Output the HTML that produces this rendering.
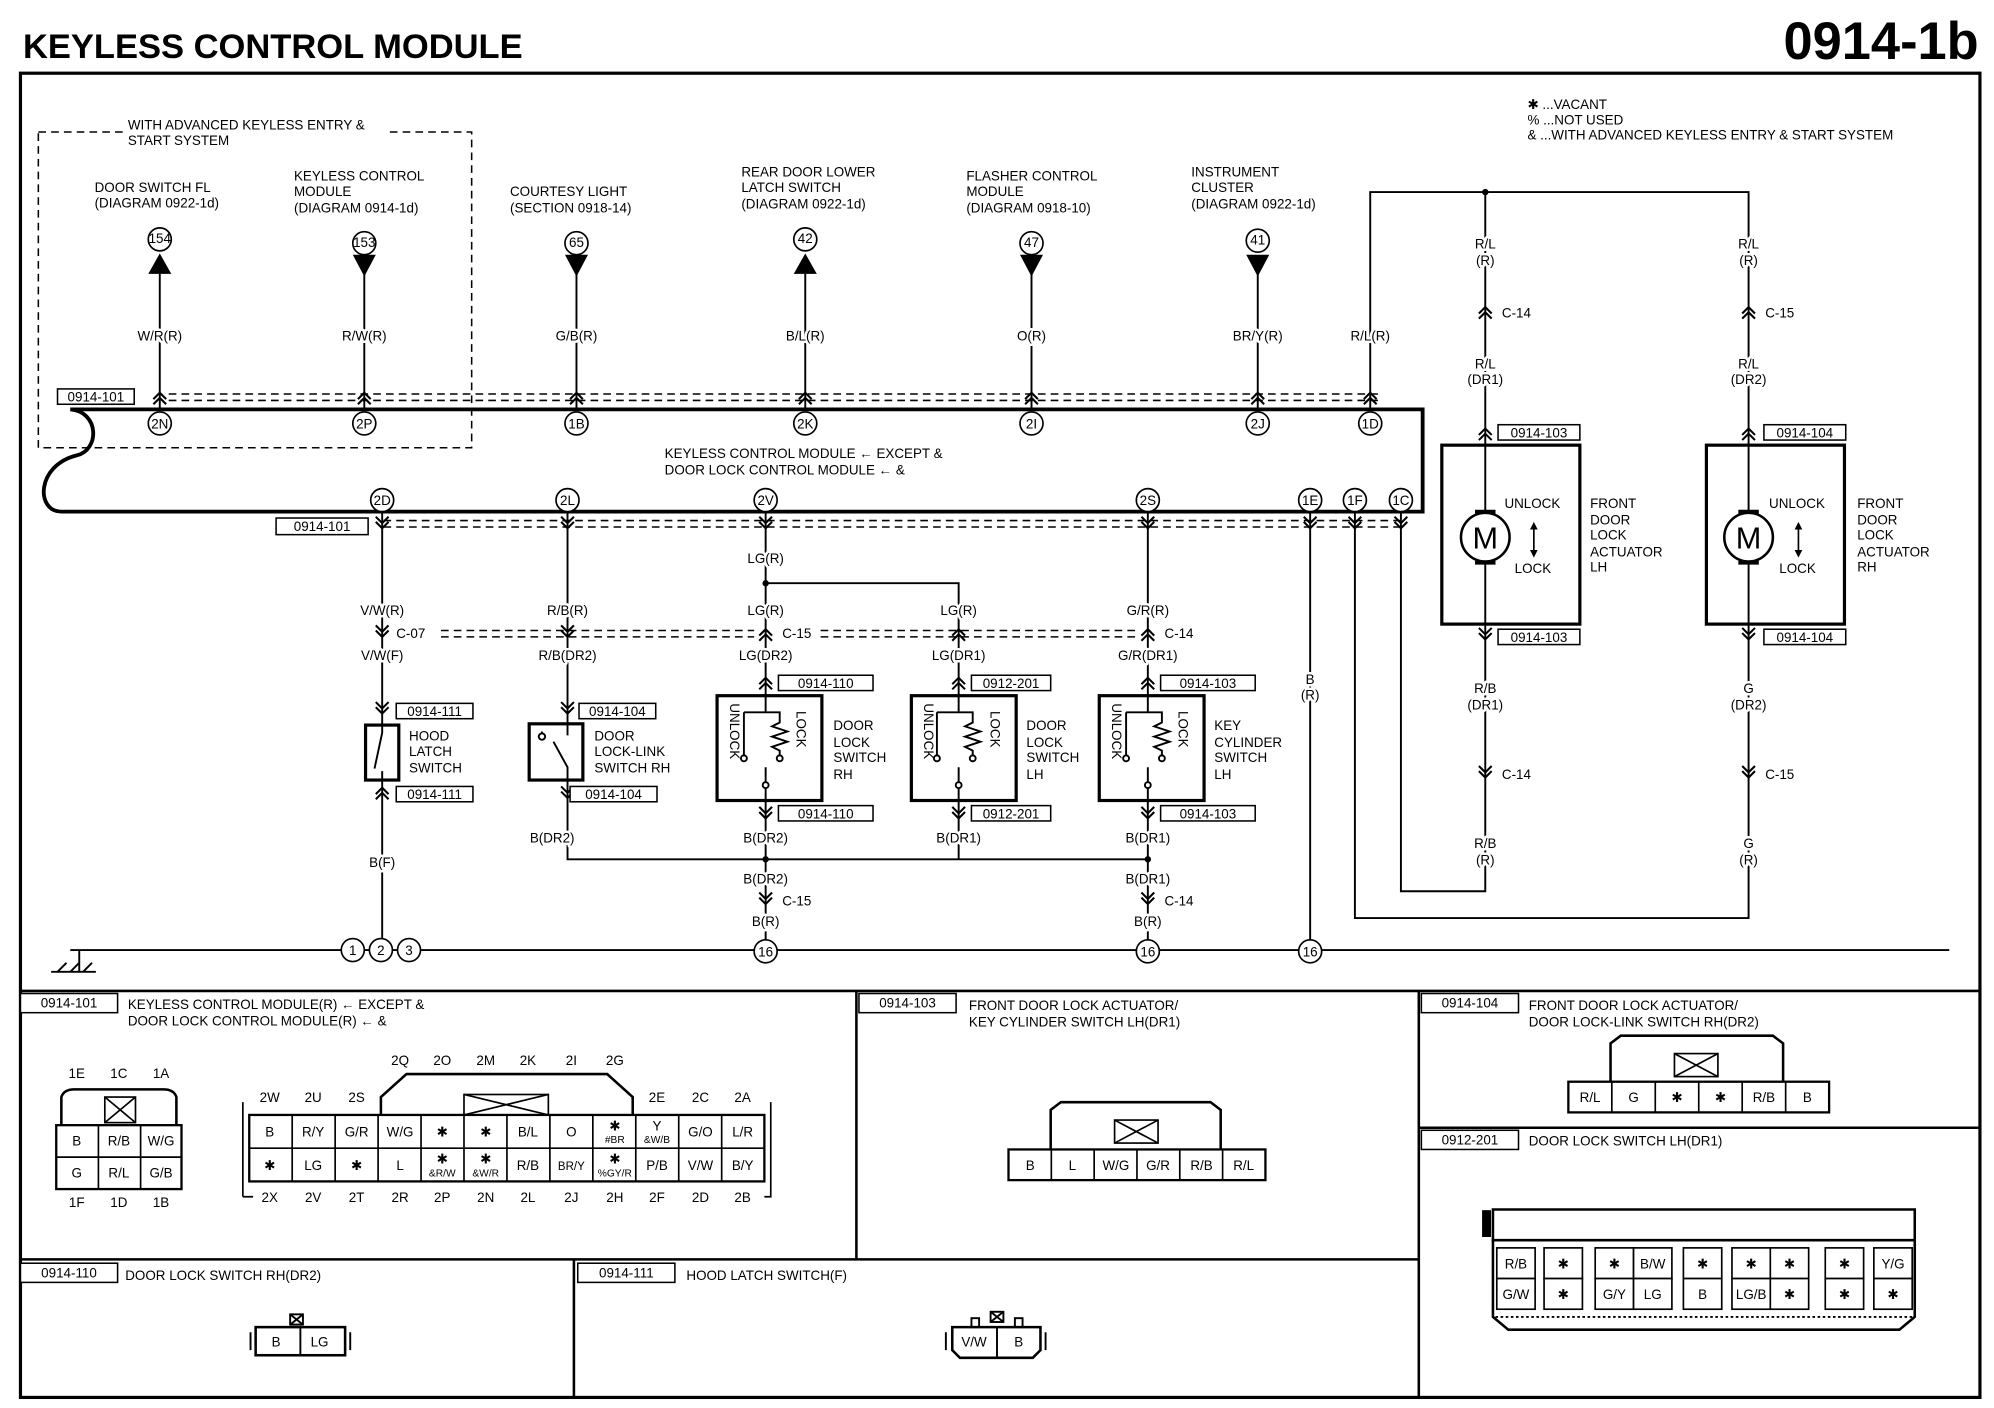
<!DOCTYPE html>
<html><head><meta charset="utf-8"><style>
html,body{margin:0;padding:0;background:#fff}
svg{display:block}
text{font-family:"Liberation Sans",sans-serif;font-size:10.5px;fill:#000}
.c{text-anchor:middle}
.b{font-weight:bold}
.w{paint-order:stroke;stroke:#fff;stroke-width:4px;stroke-linejoin:round}
</style></head><body>
<svg width="1994" height="1408" viewBox="0 0 1560 1101" xmlns="http://www.w3.org/2000/svg">
<defs>
<g id="cu"><path d="M-5 3 L0 -2 L5 3 M-5 7 L0 2 L5 7" fill="none" stroke="#000" stroke-width="1.6"/></g>
<g id="cd"><path d="M-5 -3 L0 2 L5 -3 M-5 -7 L0 -2 L5 -7" fill="none" stroke="#000" stroke-width="1.6"/></g>
</defs>
<rect width="1560" height="1101" fill="#fff"/>
<text x="18" y="45" class="b" style="font-size:27px">KEYLESS CONTROL MODULE</text>
<text x="1548" y="46" class="b" style="font-size:41px;text-anchor:end">0914-1b</text>
<rect x="16" y="57" width="1533" height="1036" fill="none" stroke="#000" stroke-width="2.5"/>

<!-- dashed adv box -->
<path d="M30 103 H98 M305 103 H369 V350 H30 V103" fill="none" stroke="#000" stroke-width="1.2" stroke-dasharray="6 4"/>
<text x="100" y="101">WITH ADVANCED KEYLESS ENTRY &amp;</text>
<text x="100" y="113">START SYSTEM</text>

<g>
<text x="74" y="150">DOOR SWITCH FL</text><text x="74" y="162">(DIAGRAM 0922-1d)</text>
<text x="230" y="141">KEYLESS CONTROL</text><text x="230" y="153">MODULE</text><text x="230" y="166">(DIAGRAM 0914-1d)</text>
<text x="399" y="153">COURTESY LIGHT</text><text x="399" y="166">(SECTION 0918-14)</text>
<text x="580" y="138">REAR DOOR LOWER</text><text x="580" y="150">LATCH SWITCH</text><text x="580" y="163">(DIAGRAM 0922-1d)</text>
<text x="756" y="141">FLASHER CONTROL</text><text x="756" y="153">MODULE</text><text x="756" y="166">(DIAGRAM 0918-10)</text>
<text x="932" y="138">INSTRUMENT</text><text x="932" y="150">CLUSTER</text><text x="932" y="163">(DIAGRAM 0922-1d)</text>
<text x="1195" y="85">✱ ...VACANT</text><text x="1195" y="97">% ...NOT USED</text><text x="1195" y="109">&amp; ...WITH ADVANCED KEYLESS ENTRY &amp; START SYSTEM</text>
</g>

<!-- top wires -->
<g stroke="#000" stroke-width="1.5" fill="none">
<path d="M125 214 V320 M285 214 V320 M451 214 V320 M630 214 V320 M807 214 V320 M984 214 V320 M1072 320 V150 H1368 V348 M1162 150 V348"/>
</g>
<g fill="#000">
<path d="M116 214 L134 214 L125 198 Z"/><path d="M276 199 L294 199 L285 216 Z"/><path d="M442 199 L460 199 L451 216 Z"/>
<path d="M621 214 L639 214 L630 198 Z"/><path d="M798 199 L816 199 L807 216 Z"/><path d="M975 199 L993 199 L984 216 Z"/>
<circle cx="1162" cy="150" r="2.5"/>
</g>
<g fill="#fff" stroke="#000" stroke-width="1.3">
<circle cx="125" cy="187" r="9"/><circle cx="285" cy="190" r="9"/><circle cx="451" cy="190" r="9"/><circle cx="630" cy="187" r="9"/><circle cx="807" cy="190" r="9"/><circle cx="984" cy="188" r="9"/>
</g>
<g class="c" style="font-size:8px">
<text x="125" y="190" class="c">154</text><text x="285" y="193" class="c">153</text><text x="451" y="193" class="c">65</text><text x="630" y="190" class="c">42</text><text x="807" y="193" class="c">47</text><text x="984" y="191" class="c">41</text>
</g>
<g>
<text x="125" y="266" class="c w">W/R(R)</text><text x="285" y="266" class="c w">R/W(R)</text><text x="451" y="266" class="c w">G/B(R)</text><text x="630" y="266" class="c w">B/L(R)</text><text x="807" y="266" class="c w">O(R)</text><text x="984" y="266" class="c w">BR/Y(R)</text><text x="1072" y="266" class="c w">R/L(R)</text>
</g>

<!-- bus -->
<path d="M1113 320 H55 C78 322 78 352 60 356 C28 364 28 400 48 400 H1113 Z" fill="none" stroke="#000" stroke-width="3"/>
<path d="M132 308 H1080 M132 313 H1080" stroke="#000" stroke-width="1.2" stroke-dasharray="6 4"/>
<path d="M300 407 H1100 M300 412 H1100" stroke="#000" stroke-width="1.2" stroke-dasharray="6 4"/>
<g>
<use href="#cu" x="125" y="309"/><use href="#cu" x="285" y="309"/><use href="#cu" x="451" y="309"/><use href="#cu" x="630" y="309"/><use href="#cu" x="807" y="309"/><use href="#cu" x="984" y="309"/><use href="#cu" x="1072" y="309"/>
<use href="#cd" x="299" y="411"/><use href="#cd" x="444" y="411"/><use href="#cd" x="599" y="411"/><use href="#cd" x="898" y="411"/><use href="#cd" x="1025" y="411"/><use href="#cd" x="1060" y="411"/><use href="#cd" x="1096" y="411"/>
</g>
<g fill="#fff" stroke="#000" stroke-width="1.3">
<circle cx="125" cy="331" r="9"/><circle cx="285" cy="331" r="9"/><circle cx="451" cy="331" r="9"/><circle cx="630" cy="331" r="9"/><circle cx="807" cy="331" r="9"/><circle cx="984" cy="331" r="9"/><circle cx="1072" cy="331" r="9"/>
<circle cx="299" cy="391" r="9"/><circle cx="444" cy="391" r="9"/><circle cx="599" cy="391" r="9"/><circle cx="898" cy="391" r="9"/><circle cx="1025" cy="391" r="9"/><circle cx="1060" cy="391" r="9"/><circle cx="1096" cy="391" r="9"/>
</g>
<g style="font-size:9.5px">
<text x="125" y="335" class="c">2N</text><text x="285" y="335" class="c">2P</text><text x="451" y="335" class="c">1B</text><text x="630" y="335" class="c">2K</text><text x="807" y="335" class="c">2I</text><text x="984" y="335" class="c">2J</text><text x="1072" y="335" class="c">1D</text>
<text x="299" y="395" class="c">2D</text><text x="444" y="395" class="c">2L</text><text x="599" y="395" class="c">2V</text><text x="898" y="395" class="c">2S</text><text x="1025" y="395" class="c">1E</text><text x="1060" y="395" class="c">1F</text><text x="1096" y="395" class="c">1C</text>
</g>
<rect x="45" y="304" width="60" height="12" fill="#fff" stroke="#000" stroke-width="1.2"/><text x="75" y="314" class="c">0914-101</text>
<rect x="216" y="405" width="72" height="13" fill="#fff" stroke="#000" stroke-width="1.2"/><text x="252" y="415" class="c">0914-101</text>
<text x="520" y="358">KEYLESS CONTROL MODULE ← EXCEPT &amp;</text>
<text x="520" y="371">DOOR LOCK CONTROL MODULE ← &amp;</text>

<!-- actuators -->
<g stroke="#000" fill="none">
<rect x="1128" y="348" width="108" height="140" stroke-width="2.5"/>
<rect x="1335" y="348" width="108" height="140" stroke-width="2.5"/>
<path d="M1162 488 V697 H1096 V400 M1368 488 V718 H1060 V400 M1025 400 V743" stroke-width="1.5"/>
<path d="M1162 348 V401 M1162 439 V488 M1368 348 V401 M1368 439 V488" stroke-width="1.5"/>
<circle cx="1162" cy="420" r="19" stroke-width="2" fill="#fff"/>
<circle cx="1368" cy="420" r="19" stroke-width="2" fill="#fff"/>
<path d="M1200 412 V432 M1407 412 V432" stroke-width="1.3"/>
<path d="M1154 400 H1170 M1154 440 H1170 M1360 400 H1376 M1360 440 H1376" stroke-width="3"/>
</g>
<path d="M1197 414 L1200 408 L1203 414 Z M1197 430 L1200 436 L1203 430 Z M1404 414 L1407 408 L1410 414 Z M1404 430 L1407 436 L1410 430 Z" fill="#000"/>
<text x="1162" y="429" class="c" style="font-size:24px">M</text>
<text x="1368" y="429" class="c" style="font-size:24px">M</text>
<text x="1177" y="397">UNLOCK</text><text x="1185" y="448">LOCK</text>
<text x="1384" y="397">UNLOCK</text><text x="1392" y="448">LOCK</text>
<text x="1244" y="397">FRONT</text><text x="1244" y="410">DOOR</text><text x="1244" y="422">LOCK</text><text x="1244" y="435">ACTUATOR</text><text x="1244" y="447">LH</text>
<text x="1453" y="397">FRONT</text><text x="1453" y="410">DOOR</text><text x="1453" y="422">LOCK</text><text x="1453" y="435">ACTUATOR</text><text x="1453" y="447">RH</text>
<g>
<text x="1162" y="194" class="c w">R/L</text><text x="1162" y="207" class="c w">(R)</text>
<text x="1368" y="194" class="c w">R/L</text><text x="1368" y="207" class="c w">(R)</text>
<use href="#cu" x="1162" y="242"/><text x="1175" y="248">C-14</text>
<use href="#cu" x="1368" y="242"/><text x="1381" y="248">C-15</text>
<text x="1162" y="288" class="c w">R/L</text><text x="1162" y="300" class="c w">(DR1)</text>
<text x="1368" y="288" class="c w">R/L</text><text x="1368" y="300" class="c w">(DR2)</text>
<use href="#cu" x="1162" y="337"/><use href="#cu" x="1368" y="337"/>
<rect x="1172" y="332" width="64" height="12" fill="#fff" stroke="#000" stroke-width="1.2"/><text x="1204" y="342" class="c">0914-103</text>
<rect x="1380" y="332" width="64" height="12" fill="#fff" stroke="#000" stroke-width="1.2"/><text x="1412" y="342" class="c">0914-104</text>
<use href="#cd" x="1162" y="498"/><use href="#cd" x="1368" y="498"/>
<rect x="1172" y="492" width="64" height="12" fill="#fff" stroke="#000" stroke-width="1.2"/><text x="1204" y="502" class="c">0914-103</text>
<rect x="1380" y="492" width="64" height="12" fill="#fff" stroke="#000" stroke-width="1.2"/><text x="1412" y="502" class="c">0914-104</text>
<text x="1162" y="542" class="c w">R/B</text><text x="1162" y="555" class="c w">(DR1)</text>
<text x="1368" y="542" class="c w">G</text><text x="1368" y="555" class="c w">(DR2)</text>
<use href="#cd" x="1162" y="606"/><text x="1175" y="609">C-14</text>
<use href="#cd" x="1368" y="606"/><text x="1381" y="609">C-15</text>
<text x="1162" y="663" class="c w">R/B</text><text x="1162" y="676" class="c w">(R)</text>
<text x="1368" y="663" class="c w">G</text><text x="1368" y="676" class="c w">(R)</text>
<text x="1025" y="535" class="c w">B</text><text x="1025" y="547" class="c w">(R)</text>
</g>

<!-- bottom circuits -->
<g stroke="#000" stroke-width="1.5" fill="none">
<path d="M299 400 V743 M444 400 V567 M444 610 V672 H899 M599 400 V544 M599 626 V743 M599 456 H750 V544 M750 626 V672 M898 400 V544 M898 626 V743"/>
<path d="M55 743 H1525" />
<path d="M62 743 V760 M45 760 L52 753 M55 760 L62 753 M65 760 L72 753 M40 760 H75"/>
</g>
<path d="M345 493 H590 M345 498 H590 M642 493 H890 M642 498 H890" stroke="#000" stroke-width="1.2" stroke-dasharray="6 4"/>
<g fill="#000"><circle cx="599" cy="456" r="2.5"/><circle cx="599" cy="672" r="2.5"/><circle cx="898" cy="672" r="2.5"/></g>
<g>
<text x="299" y="481" class="c w">V/W(R)</text><use href="#cd" x="299" y="496"/><text x="310" y="499">C-07</text><text x="299" y="516" class="c w">V/W(F)</text>
<text x="444" y="481" class="c w">R/B(R)</text><use href="#cd" x="444" y="496"/><text x="444" y="516" class="c w">R/B(DR2)</text>
<text x="599" y="440" class="c w">LG(R)</text>
<text x="599" y="481" class="c w">LG(R)</text><use href="#cu" x="599" y="494"/><text x="612" y="499">C-15</text><text x="599" y="516" class="c w">LG(DR2)</text>
<text x="750" y="481" class="c w">LG(R)</text><use href="#cu" x="750" y="494"/><text x="750" y="516" class="c w">LG(DR1)</text>
<text x="898" y="481" class="c w">G/R(R)</text><use href="#cu" x="898" y="494"/><text x="911" y="499">C-14</text><text x="898" y="516" class="c w">G/R(DR1)</text>
<use href="#cd" x="299" y="556"/><use href="#cd" x="444" y="556"/><use href="#cu" x="599" y="532"/><use href="#cu" x="750" y="532"/><use href="#cu" x="898" y="532"/>
<use href="#cu" x="299" y="618"/><use href="#cd" x="444" y="622"/><use href="#cd" x="599" y="638"/><use href="#cd" x="750" y="638"/><use href="#cd" x="898" y="638"/>
<text x="299" y="678" class="c w">B(F)</text>
<text x="432" y="659" class="c w">B(DR2)</text><text x="599" y="659" class="c w">B(DR2)</text><text x="750" y="659" class="c w">B(DR1)</text><text x="898" y="659" class="c w">B(DR1)</text>
<text x="599" y="691" class="c w">B(DR2)</text><use href="#cd" x="599" y="705"/><text x="612" y="708">C-15</text><text x="599" y="724" class="c w">B(R)</text>
<text x="898" y="691" class="c w">B(DR1)</text><use href="#cd" x="898" y="705"/><text x="911" y="708">C-14</text><text x="898" y="724" class="c w">B(R)</text>
</g>
<g fill="#fff" stroke="#000" stroke-width="1.2">
<rect x="310" y="550" width="60" height="12"/><rect x="310" y="615" width="60" height="12"/>
<rect x="453" y="550" width="60" height="12"/><rect x="446" y="615" width="68" height="12"/>
<rect x="609" y="528" width="74" height="12"/><rect x="609" y="630" width="74" height="12"/>
<rect x="760" y="528" width="62" height="12"/><rect x="760" y="630" width="62" height="12"/>
<rect x="908" y="528" width="74" height="12"/><rect x="908" y="630" width="74" height="12"/>
</g>
<g>
<text x="340" y="560" class="c">0914-111</text><text x="340" y="625" class="c">0914-111</text>
<text x="483" y="560" class="c">0914-104</text><text x="480" y="625" class="c">0914-104</text>
<text x="646" y="538" class="c">0914-110</text><text x="646" y="640" class="c">0914-110</text>
<text x="791" y="538" class="c">0912-201</text><text x="791" y="640" class="c">0912-201</text>
<text x="945" y="538" class="c">0914-103</text><text x="945" y="640" class="c">0914-103</text>
</g>
<!-- switches -->
<g stroke="#000" fill="#fff">
<rect x="286" y="567" width="26" height="43" stroke-width="2.5"/>
<rect x="414" y="566" width="42" height="44" stroke-width="2.5"/>
<rect x="561" y="544" width="82" height="82" stroke-width="2.5"/>
<rect x="713" y="544" width="82" height="82" stroke-width="2.5"/>
<rect x="860" y="544" width="82" height="82" stroke-width="2.5"/>
</g>
<g stroke="#000" stroke-width="1.5" fill="none">
<path d="M299 567 V573 L293 601 M299 603 V610"/>
<path d="M444 566 V575 M444 610 V600 L433 580 M424 576 V572"/>
<circle cx="424" cy="576" r="2.5" fill="#fff"/>
<path d="M599 544 V557 M582 557 H599 L610 557 V565 L604 568 L616 572 L604 576 L616 580 L604 584 L610 587 V591 M582 557 V591 M599 600 V626"/>
<circle cx="582" cy="593" r="2.3" fill="#fff"/><circle cx="610" cy="593" r="2.3" fill="#fff"/><circle cx="599" cy="614" r="2.3" fill="#fff"/>
<path d="M750 544 V557 M733 557 H750 L761 557 V565 L755 568 L767 572 L755 576 L767 580 L755 584 L761 587 V591 M733 557 V591 M750 600 V626"/>
<circle cx="733" cy="593" r="2.3" fill="#fff"/><circle cx="761" cy="593" r="2.3" fill="#fff"/><circle cx="750" cy="614" r="2.3" fill="#fff"/>
<path d="M898 544 V557 M881 557 H898 L909 557 V565 L903 568 L915 572 L903 576 L915 580 L903 584 L909 587 V591 M881 557 V591 M898 600 V626"/>
<circle cx="881" cy="593" r="2.3" fill="#fff"/><circle cx="909" cy="593" r="2.3" fill="#fff"/><circle cx="898" cy="614" r="2.3" fill="#fff"/>
</g>
<g style="font-size:9px">
<text transform="translate(571,550) rotate(90)">UNLOCK</text><text transform="translate(623,556) rotate(90)">LOCK</text>
<text transform="translate(723,550) rotate(90)">UNLOCK</text><text transform="translate(775,556) rotate(90)">LOCK</text>
<text transform="translate(870,550) rotate(90)">UNLOCK</text><text transform="translate(922,556) rotate(90)">LOCK</text>
</g>
<g>
<text x="320" y="579">HOOD</text><text x="320" y="591">LATCH</text><text x="320" y="604">SWITCH</text>
<text x="465" y="579">DOOR</text><text x="465" y="591">LOCK-LINK</text><text x="465" y="604">SWITCH RH</text>
<text x="652" y="571">DOOR</text><text x="652" y="584">LOCK</text><text x="652" y="596">SWITCH</text><text x="652" y="609">RH</text>
<text x="803" y="571">DOOR</text><text x="803" y="584">LOCK</text><text x="803" y="596">SWITCH</text><text x="803" y="609">LH</text>
<text x="950" y="571">KEY</text><text x="950" y="584">CYLINDER</text><text x="950" y="596">SWITCH</text><text x="950" y="609">LH</text>
</g>
<!-- ground circles -->
<g fill="#fff" stroke="#000" stroke-width="1.3">
<circle cx="276" cy="743" r="9"/><circle cx="298" cy="743" r="9"/><circle cx="320" cy="743" r="9"/>
<circle cx="599" cy="744" r="9"/><circle cx="898" cy="744" r="9"/><circle cx="1025" cy="744" r="9"/>
</g>
<g style="font-size:9.5px">
<text x="276" y="747" class="c">1</text><text x="298" y="747" class="c">2</text><text x="320" y="747" class="c">3</text>
<text x="599" y="748" class="c">16</text><text x="898" y="748" class="c">16</text><text x="1025" y="748" class="c">16</text>
</g>

<!-- panels -->
<g stroke="#000" stroke-width="2" fill="none">
<path d="M16 775 H1549 M670 775 V985 M1110 775 V1093 M16 985 H1110 M1110 882 H1549 M449 985 V1093"/>
</g>
<g fill="#fff" stroke="#000" stroke-width="1.2">
<rect x="16" y="777" width="76" height="15"/><rect x="672" y="777" width="76" height="15"/><rect x="1112" y="777" width="76" height="15"/>
<rect x="1112" y="884" width="76" height="15"/><rect x="16" y="988" width="76" height="15"/><rect x="452" y="988" width="76" height="15"/>
</g>
<g>
<text x="54" y="788" class="c">0914-101</text><text x="710" y="788" class="c">0914-103</text><text x="1150" y="788" class="c">0914-104</text>
<text x="1150" y="895" class="c">0912-201</text><text x="54" y="999" class="c">0914-110</text><text x="490" y="999" class="c">0914-111</text>
<text x="100" y="789">KEYLESS CONTROL MODULE(R) ← EXCEPT &amp;</text><text x="100" y="802">DOOR LOCK CONTROL MODULE(R) ← &amp;</text>
<text x="758" y="790">FRONT DOOR LOCK ACTUATOR/</text><text x="758" y="803">KEY CYLINDER SWITCH LH(DR1)</text>
<text x="1196" y="790">FRONT DOOR LOCK ACTUATOR/</text><text x="1196" y="803">DOOR LOCK-LINK SWITCH RH(DR2)</text>
<text x="1196" y="896">DOOR LOCK SWITCH LH(DR1)</text>
<text x="98" y="1001">DOOR LOCK SWITCH RH(DR2)</text>
<text x="537" y="1001">HOOD LATCH SWITCH(F)</text>
</g>

<!-- 0914-101 small connector -->
<g stroke="#000" fill="none" stroke-width="1.3">
<path d="M48 880 V858 Q50 852 58 852 H128 Q136 852 138 858 V880" stroke-width="2"/>
<rect x="82" y="858" width="24" height="20"/><path d="M82 858 L106 878 M106 858 L82 878"/>
<rect x="44" y="880" width="98" height="50" stroke-width="1.8"/>
<path d="M77 880 V930 M110 880 V930 M44 905 H142"/>
</g>
<g style="font-size:10px">
<text x="60" y="843" class="c">1E</text><text x="93" y="843" class="c">1C</text><text x="126" y="843" class="c">1A</text>
<text x="60" y="896" class="c">B</text><text x="93" y="896" class="c">R/B</text><text x="126" y="896" class="c">W/G</text>
<text x="60" y="921" class="c">G</text><text x="93" y="921" class="c">R/L</text><text x="126" y="921" class="c">G/B</text>
<text x="60" y="944" class="c">1F</text><text x="93" y="944" class="c">1D</text><text x="126" y="944" class="c">1B</text>
</g>
<!-- big connector -->
<g stroke="#000" fill="none" stroke-width="1.3">
<path d="M298 872 V858 L318 840 H475 L495 858 V872" stroke-width="2"/>
<rect x="363" y="856" width="66" height="16"/><path d="M363 856 L429 872 M429 856 L363 872"/>
<rect x="195" y="872" width="403" height="52" stroke-width="1.8"/>
<path d="M190 862 V936 M190 936 H198 M598 936 H603 V862"/>
<path d="M228.6 872 V924 M262.2 872 V924 M295.8 872 V924 M329.4 872 V924 M363 872 V924 M396.6 872 V924 M430.2 872 V924 M463.8 872 V924 M497.4 872 V924 M531 872 V924 M564.6 872 V924 M195 898 H598"/>
</g>
<g style="font-size:10px">
<text x="211" y="862" class="c">2W</text><text x="245" y="862" class="c">2U</text><text x="279" y="862" class="c">2S</text>
<text x="313" y="833" class="c">2Q</text><text x="346" y="833" class="c">2O</text><text x="380" y="833" class="c">2M</text><text x="413" y="833" class="c">2K</text><text x="447" y="833" class="c">2I</text><text x="481" y="833" class="c">2G</text>
<text x="514" y="862" class="c">2E</text><text x="548" y="862" class="c">2C</text><text x="581" y="862" class="c">2A</text>
<text x="211" y="889" class="c">B</text><text x="245" y="889" class="c">R/Y</text><text x="279" y="889" class="c">G/R</text><text x="313" y="889" class="c">W/G</text><text x="346" y="889" class="c">✱</text><text x="380" y="889" class="c">✱</text><text x="413" y="889" class="c">B/L</text><text x="447" y="889" class="c">O</text>
<text x="481" y="884" class="c">✱</text><text x="481" y="894" class="c" style="font-size:8px">#BR</text>
<text x="514" y="884" class="c">Y</text><text x="514" y="894" class="c" style="font-size:8px">&amp;W/B</text>
<text x="548" y="889" class="c">G/O</text><text x="581" y="889" class="c">L/R</text>
<text x="211" y="915" class="c">✱</text><text x="245" y="915" class="c">LG</text><text x="279" y="915" class="c">✱</text><text x="313" y="915" class="c">L</text>
<text x="346" y="910" class="c">✱</text><text x="346" y="920" class="c" style="font-size:8px">&amp;R/W</text>
<text x="380" y="910" class="c">✱</text><text x="380" y="920" class="c" style="font-size:8px">&amp;W/R</text>
<text x="413" y="915" class="c">R/B</text><text x="447" y="915" class="c" style="font-size:9px">BR/Y</text>
<text x="481" y="910" class="c">✱</text><text x="481" y="920" class="c" style="font-size:8px">%GY/R</text>
<text x="514" y="915" class="c">P/B</text><text x="548" y="915" class="c">V/W</text><text x="581" y="915" class="c">B/Y</text>
<text x="211" y="940" class="c">2X</text><text x="245" y="940" class="c">2V</text><text x="279" y="940" class="c">2T</text><text x="313" y="940" class="c">2R</text><text x="346" y="940" class="c">2P</text><text x="380" y="940" class="c">2N</text><text x="413" y="940" class="c">2L</text><text x="447" y="940" class="c">2J</text><text x="481" y="940" class="c">2H</text><text x="514" y="940" class="c">2F</text><text x="548" y="940" class="c">2D</text><text x="581" y="940" class="c">2B</text>
</g>
<!-- 0914-103 -->
<g stroke="#000" fill="none" stroke-width="1.3">
<path d="M822 899 V868 L830 862 H947 L955 868 V899" stroke-width="2"/>
<rect x="872" y="876" width="34" height="18"/><path d="M872 876 L906 894 M906 876 L872 894"/>
<rect x="789" y="899" width="201" height="24" stroke-width="1.8"/>
<path d="M822.5 899 V923 M856 899 V923 M889.5 899 V923 M923 899 V923 M956.5 899 V923"/>
</g>
<g><text x="806" y="915" class="c">B</text><text x="839" y="915" class="c">L</text><text x="873" y="915" class="c">W/G</text><text x="906" y="915" class="c">G/R</text><text x="940" y="915" class="c">R/B</text><text x="973" y="915" class="c">R/L</text></g>
<!-- 0914-104 -->
<g stroke="#000" fill="none" stroke-width="1.3">
<path d="M1260 846 V816 L1268 810 H1387 L1395 816 V846" stroke-width="2"/>
<rect x="1310" y="824" width="34" height="18"/><path d="M1310 824 L1344 842 M1344 824 L1310 842"/>
<rect x="1227" y="846" width="204" height="24" stroke-width="1.8"/>
<path d="M1261 846 V870 M1295 846 V870 M1329 846 V870 M1363 846 V870 M1397 846 V870"/>
</g>
<g><text x="1244" y="862" class="c">R/L</text><text x="1278" y="862" class="c">G</text><text x="1312" y="862" class="c">✱</text><text x="1346" y="862" class="c">✱</text><text x="1380" y="862" class="c">R/B</text><text x="1414" y="862" class="c">B</text></g>
<!-- 0912-201 -->
<g stroke="#000" fill="none">
<path d="M1167 946 H1498 V1030 L1486 1040 H1180 L1168 1030 V946 Z" stroke-width="2"/>
<rect x="1160" y="947" width="6" height="20" fill="#000"/>
<path d="M1167 970 H1498" stroke-width="2"/>
<rect x="1168" y="970" width="330" height="60" stroke-width="1.5" stroke-dasharray="2 2"/>
</g>
<g stroke="#000" fill="#fff" stroke-width="1.3">
<rect x="1171" y="976" width="30" height="24"/><rect x="1171" y="1000" width="30" height="24"/>
<rect x="1208" y="976" width="30" height="24"/><rect x="1208" y="1000" width="30" height="24"/>
<rect x="1248" y="976" width="30" height="24"/><rect x="1248" y="1000" width="30" height="24"/>
<rect x="1278" y="976" width="30" height="24"/><rect x="1278" y="1000" width="30" height="24"/>
<rect x="1317" y="976" width="30" height="24"/><rect x="1317" y="1000" width="30" height="24"/>
<rect x="1355" y="976" width="30" height="24"/><rect x="1355" y="1000" width="30" height="24"/>
<rect x="1385" y="976" width="30" height="24"/><rect x="1385" y="1000" width="30" height="24"/>
<rect x="1428" y="976" width="30" height="24"/><rect x="1428" y="1000" width="30" height="24"/>
<rect x="1466" y="976" width="30" height="24"/><rect x="1466" y="1000" width="30" height="24"/>
</g>
<g style="font-size:10px">
<text x="1186" y="992" class="c">R/B</text><text x="1223" y="992" class="c">✱</text><text x="1263" y="992" class="c">✱</text><text x="1293" y="992" class="c">B/W</text><text x="1332" y="992" class="c">✱</text><text x="1370" y="992" class="c">✱</text><text x="1400" y="992" class="c">✱</text><text x="1443" y="992" class="c">✱</text><text x="1481" y="992" class="c">Y/G</text>
<text x="1186" y="1016" class="c">G/W</text><text x="1223" y="1016" class="c">✱</text><text x="1263" y="1016" class="c">G/Y</text><text x="1293" y="1016" class="c">LG</text><text x="1332" y="1016" class="c">B</text><text x="1370" y="1016" class="c">LG/B</text><text x="1400" y="1016" class="c">✱</text><text x="1443" y="1016" class="c">✱</text><text x="1481" y="1016" class="c">✱</text>
</g>
<!-- 0914-110 -->
<g stroke="#000" fill="none" stroke-width="1.5">
<rect x="200" y="1038" width="70" height="22" stroke-width="2"/><path d="M235 1038 V1060"/>
<path d="M196 1042 V1056 M274 1042 V1056"/>
<rect x="227" y="1028" width="10" height="8"/><path d="M227 1028 L237 1036 M237 1028 L227 1036"/>
</g>
<text x="216" y="1053" class="c">B</text><text x="250" y="1053" class="c">LG</text>
<!-- 0914-111 -->
<g stroke="#000" fill="none" stroke-width="1.5">
<path d="M745 1038 H814 V1056 L808 1062 H751 L745 1056 Z" stroke-width="2"/><path d="M780 1038 V1062"/>
<path d="M740 1042 V1056 M818 1042 V1056"/>
<rect x="775" y="1026" width="10" height="8"/><path d="M775 1026 L785 1034 M785 1026 L775 1034"/>
<rect x="760" y="1031" width="6" height="7"/><rect x="794" y="1031" width="6" height="7"/>
</g>
<text x="762" y="1053" class="c">V/W</text><text x="797" y="1053" class="c">B</text>
</svg>
</body></html>
